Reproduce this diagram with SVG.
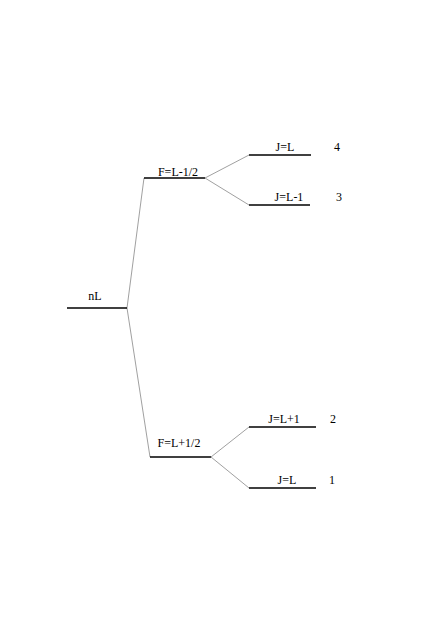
<svg xmlns="http://www.w3.org/2000/svg" width="436" height="626" viewBox="0 0 436 626">
<style>
.lvl{stroke:#000;stroke-width:1.5;fill:none}
.con{stroke:#777;stroke-width:0.7;fill:none}
text{font-family:"Liberation Serif",serif;font-size:12px;fill:#000}
.m{text-anchor:middle}
</style>
<rect width="436" height="626" fill="#fff"/>
<g id="connectors">
<line class="con" x1="127" y1="308" x2="144" y2="178"/>
<line class="con" x1="127" y1="308" x2="150" y2="457"/>
<line class="con" x1="205" y1="178" x2="249" y2="155"/>
<line class="con" x1="205" y1="178" x2="249" y2="205"/>
<line class="con" x1="211" y1="457" x2="249" y2="427"/>
<line class="con" x1="211" y1="457" x2="249" y2="488"/>
</g>
<g id="nL"><line class="lvl" x1="67" y1="308" x2="127" y2="308"/><text class="m" x="95" y="300">nL</text></g>
<g id="F_minus"><line class="lvl" x1="144" y1="178" x2="205" y2="178"/><text class="m" x="178" y="176">F=L-1/2</text></g>
<g id="F_plus"><line class="lvl" x1="150" y1="457" x2="211" y2="457"/><text class="m" x="179" y="447">F=L+1/2</text></g>
<g id="J4"><line class="lvl" x1="249" y1="155" x2="311" y2="155"/><text class="m" x="285" y="151">J=L</text><text class="m" x="337" y="151">4</text></g>
<g id="J3"><line class="lvl" x1="249" y1="205" x2="310" y2="205"/><text class="m" x="289" y="201">J=L-1</text><text class="m" x="339" y="201">3</text></g>
<g id="J2"><line class="lvl" x1="249" y1="427" x2="316" y2="427"/><text class="m" x="284" y="423">J=L+1</text><text class="m" x="333" y="423">2</text></g>
<g id="J1"><line class="lvl" x1="249" y1="488" x2="316" y2="488"/><text class="m" x="287" y="484">J=L</text><text class="m" x="332" y="484">1</text></g>
</svg>
